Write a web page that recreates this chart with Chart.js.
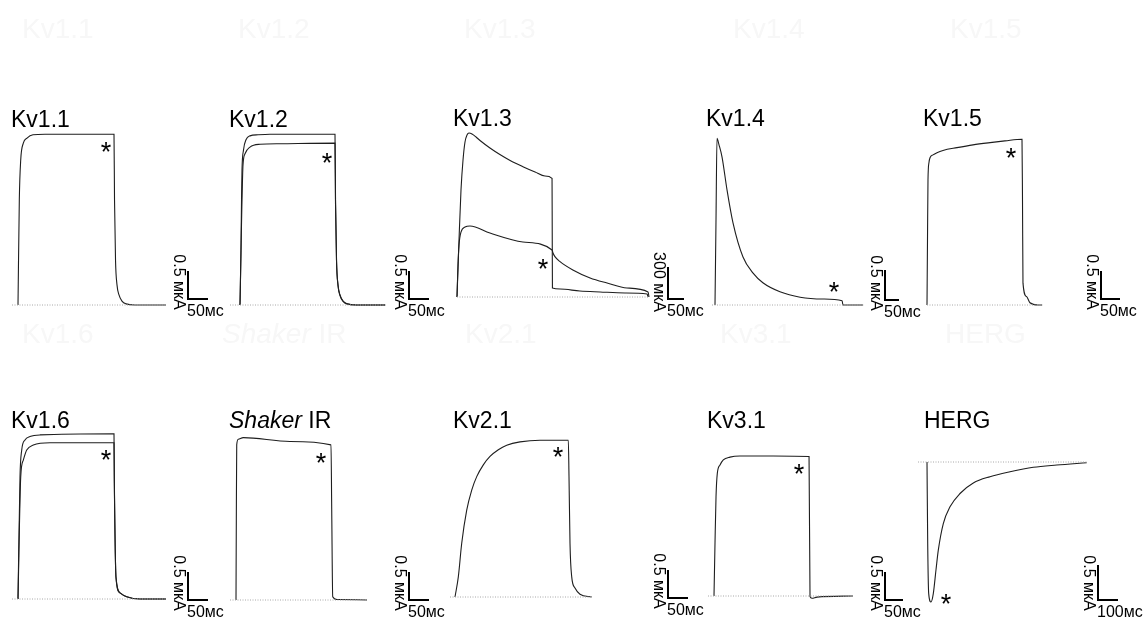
<!DOCTYPE html>
<html>
<head>
<meta charset="utf-8">
<script src="https://cdn.jsdelivr.net/npm/chart.js@4.4.0/dist/chart.umd.min.js"></script>
<style>
  html, body { margin: 0; padding: 0; background: #fff; }
  #wrap { position: relative; width: 1145px; height: 619px; overflow: hidden; }
  #wrap canvas { position: absolute; left: 0; top: 0; }
</style>
</head>
<body>
<div id="wrap"></div>
<script>
// time in ms, current in мкА (Kv1.3 in its own 300-unit scale)
const kv11T = [0, 3.3, 6.8, 13.3, 22.5, 37.5, 67.5, 240, 241.3, 243.8, 247.5, 252.5, 260, 270, 292, 370]
const kv11I = [0, 1.88, 2.59, 2.89, 2.98, 3.04, 3.05, 3.05, 1.88, 0.80, 0.36, 0.18, 0.07, 0.02, 0, 0]
const kv11Base = [-15, 370]
const kv11Star = [220, 2.84]

const kv12Ta = [0, 2.5, 3.8, 5, 8.8, 15, 25, 45, 75, 237.5, 238.8, 241.3, 245, 250, 257.5, 267.5, 290, 362.5]
const kv12Ia = [0, 0.98, 1.88, 2.41, 2.77, 2.95, 3.02, 3.04, 3.05, 3.05, 1.88, 0.80, 0.36, 0.18, 0.07, 0.02, 0, 0]
const kv12Tb = [0, 2.5, 5, 7.5, 12.5, 25, 50, 100, 237.5, 238.8, 241.3, 245, 250, 257.5, 267.5, 290, 362.5]
const kv12Ib = [0, 0.98, 1.88, 2.5, 2.70, 2.82, 2.87, 2.88, 2.89, 1.8, 0.78, 0.35, 0.17, 0.07, 0.02, 0, 0]
const kv12Base = [-25, 367]
const kv12Star = [217.5, 2.66]

const kv13Ta = [0, 6.3, 12.5, 18.8, 25, 31.3, 37.5, 46.9, 59.4, 71.9, 103, 134, 166, 206, 244, 275, 297, 297.6, 298.2, 322, 384, 447, 525, 594, 597]
const kv13Ia = [0, 534, 1003, 1284, 1453, 1519, 1537, 1528, 1500, 1467, 1397, 1336, 1280, 1222, 1172, 1134, 1113, 600, 84, 75, 56, 47, 38, 28, 0]
const kv13Tb = [0, 3.1, 6.3, 12.5, 25, 40.6, 103, 206, 297, 300, 306, 322, 362, 416, 469, 531, 597, 600]
const kv13Ib = [0, 300, 488, 609, 656, 666, 600, 516, 441, 412, 378, 331, 253, 178, 131, 84, 47, 0]
const kv13Base = [0, 597]
const kv13Star = [269, 328]

const kv14T = [0, 3.6, 7.1, 14.3, 25, 42.9, 64.3, 100, 136, 171, 232, 304, 386, 454, 457, 529]
const kv14I = [0, 1.42, 2.78, 2.67, 2.47, 1.92, 1.37, 0.80, 0.53, 0.37, 0.22, 0.13, 0.10, 0.07, 0, 0]
const kv14Base = [-10.7, 529]
const kv14Star = [425, 0.32]

const kv15T = [0, 1.3, 2.6, 5.3, 7.9, 15.8, 26.3, 42.1, 78.9, 121, 166, 205, 250, 251.3, 252.6, 261.8, 271, 292, 303]
const kv15I = [0, 1.16, 2.23, 2.55, 2.63, 2.68, 2.72, 2.76, 2.81, 2.86, 2.90, 2.93, 2.96, 1.88, 0.39, 0.15, 0.04, 0, 0]
const kv15Base = [0, 303]
const kv15Star = [221, 2.75]

const kv16Ta = [0, 5, 9.3, 17.5, 30, 55, 240, 240.8, 245, 255, 271.8, 305, 370]
const kv16Ia = [0, 2.18, 2.66, 2.84, 2.90, 2.93, 2.95, 2.18, 0.39, 0.11, 0.04, 0, 0]
const kv16Tb = [0, 6.8, 13.3, 21.8, 38.3, 80, 240, 240.8, 245, 255, 271.8, 305, 370]
const kv16Ib = [0, 2.18, 2.48, 2.66, 2.75, 2.79, 2.79, 2.10, 0.38, 0.11, 0.04, 0, 0]
const kv16Base = [-15, 370]
const kv16Star = [220, 2.59]

const shT = [0, 0.8, 1.8, 5.8, 18.3, 135, 237.5, 239.3, 241.8, 252.5, 327.5]
const shI = [0, 1.43, 2.77, 2.87, 2.90, 2.83, 2.77, 1.61, 0.06, 0.01, 0]
const shBase = [-15, 327.5]
const shStar = [212.5, 2.57]

const kv21T = [0, 8.3, 16.8, 29.3, 41.8, 54.3, 70.8, 87.5, 108.3, 129.3, 162.5, 212.5, 283.3, 285, 287.5, 291.8, 300, 312.5, 341.8]
const kv21I = [0, 0.36, 0.96, 1.55, 1.91, 2.15, 2.36, 2.51, 2.63, 2.71, 2.77, 2.80, 2.80, 2.15, 0.96, 0.36, 0.16, 0.05, 0]
const kv21Base = [-12.5, 342.5]
const kv21Star = [257.5, 2.61]

const kv31T = [0, 2.8, 5.6, 9.2, 16.7, 25.8, 44.4, 72.2, 164, 264, 266.7, 272, 286, 386]
const kv31I = [0, 0.95, 1.77, 2.19, 2.34, 2.43, 2.48, 2.50, 2.50, 2.49, -0.01, -0.04, -0.02, 0]
const kv31Base = [-16.7, 386]
const kv31Star = [236, 2.30]

const hergT = [0, 3.5, 8.5, 20, 31.5, 45, 56.5, 81.5, 115, 165, 231.5, 315, 415, 531.5, 648.5, 798.5]
const hergI = [0, -1.16, -1.88, -2.00, -1.88, -1.54, -1.26, -0.88, -0.64, -0.45, -0.30, -0.21, -0.14, -0.076, -0.043, -0.01]
const hergBase = [-45, 805]
const hergStar = [95, -1.93]

const ghostRow1 = ['Kv1.1', 'Kv1.2', 'Kv1.3', 'Kv1.4', 'Kv1.5']
const ghostRow2 = ['Kv1.6', 'Shaker IR', 'Kv2.1', 'Kv3.1', 'HERG']

const W = 1145, H = 619
const FONT = '"Liberation Sans", Arial, sans-serif'

const panels = [
  {title: 'Kv1.1', tx: 11, ty: 127, x0: 18, y0: 305, pxMs: 0.4, pxUnit: 56, traces: [[kv11T, kv11I]], base: kv11Base, star: kv11Star, bar: [188, 299], barY: 0.5, yLabel: '0.5 мкА', barX: 50, xLabel: '50мс'},
  {title: 'Kv1.2', tx: 229, ty: 127, x0: 240, y0: 305, pxMs: 0.4, pxUnit: 56, traces: [[kv12Ta, kv12Ia], [kv12Tb, kv12Ib]], base: kv12Base, star: kv12Star, bar: [409, 299], barY: 0.5, yLabel: '0.5 мкА', barX: 50, xLabel: '50мс'},
  {title: 'Kv1.3', tx: 453, ty: 126, x0: 457, y0: 297, pxMs: 0.32, pxUnit: 32 / 300, traces: [[kv13Ta, kv13Ia], [kv13Tb, kv13Ib]], base: kv13Base, star: kv13Star, bar: [668, 299], barY: 300, yLabel: '300 мкА', barX: 50, xLabel: '50мс'},
  {title: 'Kv1.4', tx: 706, ty: 126, x0: 715, y0: 305, pxMs: 0.28, pxUnit: 60, traces: [[kv14T, kv14I]], base: kv14Base, star: kv14Star, bar: [885, 300], barY: 0.5, yLabel: '0.5 мкА', barX: 50, xLabel: '50мс'},
  {title: 'Kv1.5', tx: 923, ty: 126, x0: 927, y0: 305, pxMs: 0.38, pxUnit: 56, traces: [[kv15T, kv15I]], base: kv15Base, star: kv15Star, bar: [1101, 299], barY: 0.5, yLabel: '0.5 мкА', barX: 50, xLabel: '50мс'},
  {title: 'Kv1.6', tx: 11, ty: 428, x0: 18, y0: 599, pxMs: 0.4, pxUnit: 56, traces: [[kv16Ta, kv16Ia], [kv16Tb, kv16Ib]], base: kv16Base, star: kv16Star, bar: [188, 600], barY: 0.5, yLabel: '0.5 мкА', barX: 50, xLabel: '50мс'},
  {title: 'Shaker IR', tx: 229, ty: 428, x0: 236, y0: 600, pxMs: 0.4, pxUnit: 56, traces: [[shT, shI]], base: shBase, star: shStar, bar: [409, 600], barY: 0.5, yLabel: '0.5 мкА', barX: 50, xLabel: '50мс'},
  {title: 'Kv2.1', tx: 453, ty: 428, x0: 455, y0: 597, pxMs: 0.4, pxUnit: 56, traces: [[kv21T, kv21I]], base: kv21Base, star: kv21Star, bar: [668, 598], barY: 0.5, yLabel: '0.5 мкА', barX: 50, xLabel: '50мс'},
  {title: 'Kv3.1', tx: 707, ty: 428, x0: 714, y0: 596, pxMs: 0.36, pxUnit: 56, traces: [[kv31T, kv31I]], base: kv31Base, star: kv31Star, bar: [885, 600], barY: 0.5, yLabel: '0.5 мкА', barX: 50, xLabel: '50мс'},
  {title: 'HERG', tx: 924, ty: 428, x0: 927, y0: 462, pxMs: 0.2, pxUnit: 70, traces: [[hergT, hergI]], base: hergBase, star: hergStar, bar: [1098, 600], barY: 0.5, yLabel: '0.5 мкА', barX: 100, xLabel: '100мс'}
]

function drawTitle(ctx, text, x, y, size, color) {
  ctx.fillStyle = color
  ctx.textBaseline = 'alphabetic'
  ctx.textAlign = 'left'
  if (text.startsWith('Shaker')) {
    ctx.font = 'italic ' + size + 'px ' + FONT
    ctx.fillText('Shaker', x, y)
    const w = ctx.measureText('Shaker').width
    ctx.font = size + 'px ' + FONT
    ctx.fillText(' IR', x + w, y)
  } else {
    ctx.font = size + 'px ' + FONT
    ctx.fillText(text, x, y)
  }
}

function decor(p, k) {
  return {
    id: 'decor' + k,
    beforeDraw(chart) {
      if (k !== 0) return
      // faint leftover labels of the underlying figure
      const ctx = chart.ctx
      const xs1 = [22, 238, 464, 733, 950], xs2 = [22, 222, 465, 720, 945]
      ghostRow1.forEach((t, i) => drawTitle(ctx, t, xs1[i], 38, 28, '#f7f7f7'))
      ghostRow2.forEach((t, i) => drawTitle(ctx, t, xs2[i], 343, 28, '#f7f7f7'))
    },
    afterDatasetsDraw(chart) {
      const ctx = chart.ctx
      const xs = chart.scales.x, ys = chart.scales.y
      ctx.save()
      drawTitle(ctx, p.title, p.tx, p.ty, 23, '#000')

      // asterisk
      ctx.font = '27px ' + FONT
      ctx.textAlign = 'center'
      ctx.textBaseline = 'alphabetic'
      ctx.fillText('*', xs.getPixelForValue(p.star[0]), ys.getPixelForValue(p.star[1]) + 15.5)

      // scale bar
      const lenX = xs.getPixelForValue(p.barX) - xs.getPixelForValue(0)
      const lenY = ys.getPixelForValue(0) - ys.getPixelForValue(p.barY)
      const [bx, by] = p.bar
      ctx.strokeStyle = '#000'
      ctx.lineWidth = 2
      ctx.beginPath()
      ctx.moveTo(bx, by - lenY)
      ctx.lineTo(bx, by)
      ctx.lineTo(bx + lenX, by)
      ctx.stroke()

      ctx.font = '16px ' + FONT
      ctx.textAlign = 'left'
      ctx.fillText(p.xLabel, bx - 1, by + 17)

      ctx.translate(bx - 10, by - 17)
      ctx.rotate(Math.PI / 2)
      ctx.textAlign = 'center'
      ctx.textBaseline = 'middle'
      ctx.fillText(p.yLabel, 0, 0)
      ctx.restore()
    }
  }
}

const wrap = document.getElementById('wrap')
panels.forEach((p, k) => {
  const cv = document.createElement('canvas')
  cv.width = W
  cv.height = H
  wrap.appendChild(cv)

  const datasets = p.traces.map(([t, v]) => ({
    data: t.map((x, j) => ({x: x, y: v[j]})),
    borderColor: '#1e1e1e',
    borderWidth: 1.1,
    pointRadius: 0,
    cubicInterpolationMode: 'monotone',
    fill: false
  }))
  datasets.unshift({
    data: p.base.map(x => ({x: x, y: 0})),
    borderColor: '#a8a8a8',
    borderWidth: 1,
    borderDash: [1, 1.5],
    pointRadius: 0,
    fill: false
  })

  new Chart(cv, {
    type: 'line',
    data: {datasets: datasets},
    options: {
      responsive: false,
      animation: false,
      events: [],
      layout: {padding: 0},
      plugins: {legend: {display: false}, tooltip: {enabled: false}},
      scales: {
        x: {type: 'linear', display: false, min: -p.x0 / p.pxMs, max: (W - p.x0) / p.pxMs},
        y: {type: 'linear', display: false, min: -(H - p.y0) / p.pxUnit, max: p.y0 / p.pxUnit}
      }
    },
    plugins: [decor(p, k)]
  })
})
</script>
</body>
</html>
